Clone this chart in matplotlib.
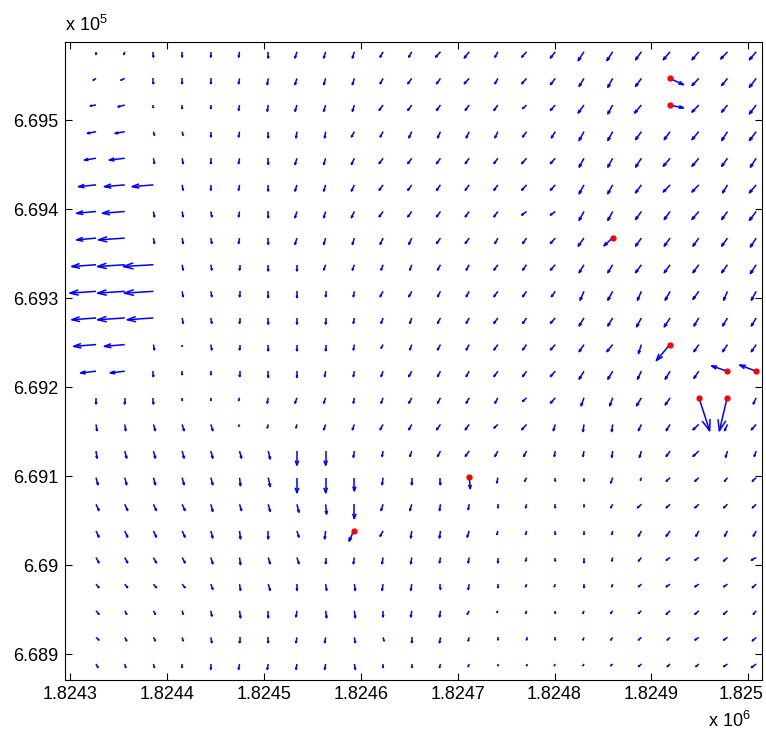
import numpy as np
import matplotlib
matplotlib.use('Agg')
import matplotlib.pyplot as plt
from matplotlib.collections import LineCollection
from matplotlib.ticker import FuncFormatter, MultipleLocator
from matplotlib.transforms import ScaledTranslation

plt.rcParams['font.family'] = 'Liberation Sans'
plt.rcParams['mathtext.fontset'] = 'custom'
plt.rcParams['mathtext.rm'] = 'Liberation Sans'
plt.rcParams['mathtext.default'] = 'regular'

# grid of sample points (easting, northing), rows listed top to bottom
x_grid = np.linspace(1824327, 1825008, 24)
y_grid = np.linspace(669577, 668889, 24)

# interpolated field, east component (m)
U = [
    [0, -1, 0, 0, 0, -1, 0, -2, -2, -2, -3, -3, -5, -5, -3, -5, -5, -6, -6, -6, -7, -7, -7, -7],
    [-3, -4, 0, 0, 0, -1, -1, -2, -2, -2, -3, -4, -4, -5, -3, -5, -5, -5, -5, -6, 0, -7, -6, -7],
    [-6, -7, 0, 0, 0, -1, -1, -2, -2, -2, -4, -4, -4, -4, -4, -4, -5, -6, -5, -7, 0, -7, -6, -7],
    [-9, -10, 1, 1, 0, -1, 0, -1, -1, -3, -3, -3, -3, -3, -3, -4, -4, -5, -5, -6, -6, -7, -6, -7],
    [-12, -16, 1, 1, 0, -1, 0, -2, -2, -3, -4, -4, -4, -4, -4, -5, -5, -5, -5, -6, -7, -7, -6, -6],
    [-18, -21, -22, 1, 0, -1, 0, -2, -2, -3, -4, -4, -4, -4, -4, -5, -5, -5, -5, -6, -7, -7, -5, -7],
    [-20, -23, 1, 1, 1, -1, 0, -2, -2, -3, -4, -4, -4, -4, -4, -5, -5, -5, -5, -6, -6, -7, -6, -7],
    [-20, -27, 1, 1, 1, -1, 0, -2, -2, -2, -3, -3, -4, -4, -3, -4, -5, -6, 0, -6, -6, -6, -6, -6],
    [-25, -28, -31, 1, 1, 0, 0, 0, -2, -2, -2, -2, -3, -3, -4, -4, -5, -5, -5, -6, -6, -6, -6, -6],
    [-27, -28, -30, 1, 1, 0, 0, 0, 0, -1, -3, -3, -3, -3, -4, -4, -4, -4, -5, -4, -5, -6, -4, -5],
    [-25, -28, -27, 1, 1, 0, 0, 0, 0, -1, -2, -2, -3, -3, -4, -4, -5, -5, -5, -5, -6, -5, -5, -5],
    [-23, -21, 1, 0, 1, 0, 0, 0, 0, -1, -2, -2, -3, -3, -4, -4, -5, -5, -6, -3, 0, -5, -5, -5],
    [-16, -15, 0, 0, 0, 0, 0, 0, -1, -1, -2, -3, -3, -3, -4, -4, -5, -5, -5, -4, -5, -5, 0, 0],
    [0, 0, 0, 0, 0, -1, -1, -2, -2, -1, -2, -3, -3, -3, -3, -4, -5, -3, -3, -5, -5, 0, 0, -3],
    [1, 1, 2, 2, 2, -1, -1, -1, -2, -2, -3, -3, -4, -4, -4, -5, -2, -1, -1, -3, -4, -6, -3, -5],
    [1, 2, 2, 2, 2, 2, 2, 0, 0, -1, -1, -2, -3, -4, -3, -3, -1, -1, -1, -2, -4, -6, -2, -2],
    [2, 2, 2, 2, 2, 1, 2, 0, 0, 0, -1, 0, 0, 0, -1, -2, 0, 0, -2, -1, -4, -4, -3, -4],
    [3, 3, 3, 3, 2, 2, 2, 2, 1, 0, -2, -2, -1, -1, 0, -1, 0, 0, -2, -4, -4, -4, -4, -4],
    [3, 3, 3, 3, 2, 1, 0, 2, -1, 0, -3, -1, -1, -2, -1, -1, 0, 0, -1, -3, -4, -3, -3, -3],
    [3, 3, 3, 3, 2, 1, 2, 2, 0, -1, -1, -1, -1, -1, 0, -1, 0, 0, -1, -3, -4, -4, -4, -5],
    [3, 3, 3, 3, 2, 1, 2, 0, 1, 1, -1, -1, 0, -1, 0, -1, -1, 0, -1, -3, -4, -4, -4, -4],
    [3, 2, 2, 1, 1, 1, 0, -1, 1, 1, 0, -1, -1, -2, -1, -1, 0, -1, -2, -3, -4, -4, -4, -3],
    [3, 2, 2, 1, 1, 0, 0, -1, -1, 1, 1, 0, -1, -1, 0, 0, 0, -1, -2, -3, -3, -4, -4, -4],
    [2, 1, 1, 0, 0, -1, -1, -1, -1, 1, 0, 0, -1, -1, 0, 0, -1, -1, -2, -3, -3, -3, -4, -5],
]

# interpolated field, north component (m)
V = [
    [-3, -3, -6, -6, -6, -6, -7, -7, -7, -7, -6, -6, -6, -7, -6, -6, -7, -10, -10, -9, -9, -9, -8, -9],
    [-2, -2, -6, -6, -6, -6, -7, -7, -7, -7, -6, -6, -6, -6, -6, -6, -7, -9, -10, -9, 0, -8, -8, -10],
    [-1, -2, -3, -4, -4, -6, -7, -7, -7, -7, -6, -6, -6, -6, -6, -4, -6, -9, -10, -9, 0, -8, -8, -10],
    [-2, -2, -4, -4, -6, -6, -7, -7, -7, -6, -6, -7, -7, -7, -7, -6, -7, -10, -10, -9, -9, -9, -10, -10],
    [-2, -2, -6, -6, -6, -6, -7, -7, -7, -7, -6, -6, -6, -6, -6, -6, -6, -10, -10, -10, -9, -9, -9, -10],
    [-2, -2, -2, -6, -6, -6, -7, -7, -7, -7, -6, -6, -6, -6, -6, -6, -6, -10, -10, -9, -8, -8, -9, -9],
    [-2, -2, -6, -6, -6, -6, -7, -7, -7, -7, -6, -6, -6, -6, -6, -4, -4, -10, -10, -9, -9, -9, -9, -10],
    [-2, -2, -6, -6, -6, -6, -7, -7, -7, -7, -7, -7, -6, -6, -6, -6, -6, -9, 0, -9, -9, -9, -9, -10],
    [-2, -2, -2, -6, -6, -6, -7, -7, -6, -6, -6, -6, -6, -6, -6, -6, -6, -9, -9, -9, -9, -9, -9, -10],
    [-2, -2, -2, -6, -6, -6, -7, -7, -6, -6, -6, -6, -6, -6, -6, -6, -6, -10, -10, -10, -10, -9, -10, -10],
    [-2, -2, -2, -6, -6, -6, -7, -7, -7, -6, -6, -6, -6, -6, -6, -6, -6, -9, -9, -10, -10, -9, -9, -9],
    [-2, -2, -6, -2, -6, -6, -7, -7, -7, -6, -4, -6, -6, -6, -6, -6, -6, -8, -8, -10, 0, -8, -8, -8],
    [-2, -2, -6, -4, -4, -6, -7, -7, -6, -6, -6, -6, -6, -6, -6, -6, -6, -9, -9, -9, -9, -8, 0, 0],
    [-7, -7, -7, -3, -3, -3, -6, -6, -6, -6, -6, -6, -6, -6, -6, -4, -6, -9, -9, -9, -8, 0, 0, -7],
    [-7, -7, -7, -7, -7, -2, -4, -4, -6, -6, -6, -6, -6, -6, -4, -6, -7, -8, -8, -7, -7, -6, -7, -6],
    [-8, -8, -8, -8, -8, -8, -9, -16, -16, -7, -6, -6, -6, -6, -6, -6, -6, -6, -7, -7, -6, -6, -7, -6],
    [-8, -8, -8, -8, -8, -9, -10, -17, -17, -15, -8, -8, -8, 0, -6, -4, -4, -4, -6, -3, -4, -4, -4, -4],
    [-7, -7, -7, -7, -8, -7, -8, -9, -11, -16, -7, -7, -7, -6, -4, -4, -4, -3, -4, -4, -4, -4, -4, -4],
    [-7, -7, -7, -7, -8, -9, -9, -7, -9, 0, -6, -8, -8, -7, -4, -4, -4, -4, -4, -6, -6, -6, -6, -6],
    [-6, -6, -6, -6, -7, -8, -7, -7, -7, -7, -7, -7, -6, -6, -6, -4, -4, -6, -4, -4, -3, -3, -4, -3],
    [-4, -4, -4, -4, -6, -7, -7, -7, -7, -7, -7, -7, -6, -6, -4, -3, -3, -4, -3, -3, -3, -3, -3, -4],
    [-4, -4, -4, -4, -6, -8, -8, -7, -8, -8, -7, -7, -7, -4, -2, -3, -3, -3, -3, -3, -4, -4, -4, -4],
    [-3, -4, -4, -4, -6, -6, -6, -6, -6, -6, -4, -6, -6, -4, -3, -3, -3, -3, -3, -3, -3, -3, -3, -4],
    [-4, -4, -4, -4, -6, -6, -6, -6, -6, -6, -4, -4, -4, -3, -2, -2, -2, -2, -2, -3, -3, -3, -3, -4],
]

# observed stations and their displacement vectors
obs_x = [1824919, 1824919, 1824860, 1824919, 1824978, 1825008, 1824949, 1824978, 1824712, 1824593]
obs_y = [669547, 669517, 669368, 669248, 669218, 669218, 669188, 669188, 669099, 669039]
obs_u = [14, 14, -9, -14, -16, -17, 11, -8, 1, -5]
obs_v = [-7, -3, -9, -18, 6, 7, -37, -37, -13, -12]


def matlab_arrows(x, y, u, v, alpha=0.33, beta=0.33):
    # shaft plus open head, like MATLAB's quiver
    segs = []
    for x0, y0, du, dv in zip(x, y, u, v):
        if du == 0 and dv == 0:
            continue
        tx, ty = x0 + du, y0 + dv
        segs.append([(x0, y0), (tx, ty)])
        segs.append([(tx - alpha * (du + beta * dv), ty - alpha * (dv - beta * du)),
                     (tx, ty),
                     (tx - alpha * (du - beta * dv), ty - alpha * (dv + beta * du))])
    return segs


X, Y = np.meshgrid(x_grid, y_grid)
U = np.array(U, dtype=float)
V = np.array(V, dtype=float)

fig = plt.figure(figsize=(7.66, 7.38), dpi=100)
ax = fig.add_axes([65 / 766, 58 / 738, 697 / 766, 638 / 738])

segs = matlab_arrows(X.ravel(), Y.ravel(), U.ravel(), V.ravel())
segs += matlab_arrows(obs_x, obs_y, obs_u, obs_v)
ax.add_collection(LineCollection(segs, colors='#0000ff', linewidths=1.1))
ax.plot(obs_x, obs_y, 'o', color='red', markersize=4.5, markeredgewidth=0)

ax.set_xlim(1824295, 1825014)
ax.set_ylim(668871, 669588)
ax.xaxis.set_major_locator(MultipleLocator(100))
ax.yaxis.set_major_locator(MultipleLocator(100))
ax.xaxis.set_major_formatter(FuncFormatter(lambda v, p: '%g' % (v / 1e6)))
ax.yaxis.set_major_formatter(FuncFormatter(lambda v, p: '%g' % (v / 1e5)))
ax.tick_params(direction='in', top=True, right=True, length=5, width=0.8,
               labelsize=13, pad=5)
ax.tick_params(axis='x', pad=4)
for s in ax.spines.values():
    s.set_linewidth(0.8)

# keep the rightmost x label inside the figure edge
fig.canvas.draw()
for t in ax.xaxis.get_major_ticks():
    if abs(t.get_loc() - 1825000) < 1:
        lab = t.label1
        lab.set_transform(lab.get_transform() + ScaledTranslation(-5 / 72, 0, fig.dpi_scale_trans))

ax.annotate(r'x 10$^{5}$', xy=(0, 1), xycoords='axes fraction',
            xytext=(0, 5), textcoords='offset points', fontsize=13,
            ha='left', va='bottom')
ax.annotate(r'x 10$^{6}$', xy=(1, 0), xycoords='axes fraction',
            xytext=(-8, -22), textcoords='offset points', fontsize=13,
            ha='right', va='top')

fig.savefig('out.png', dpi=100)
